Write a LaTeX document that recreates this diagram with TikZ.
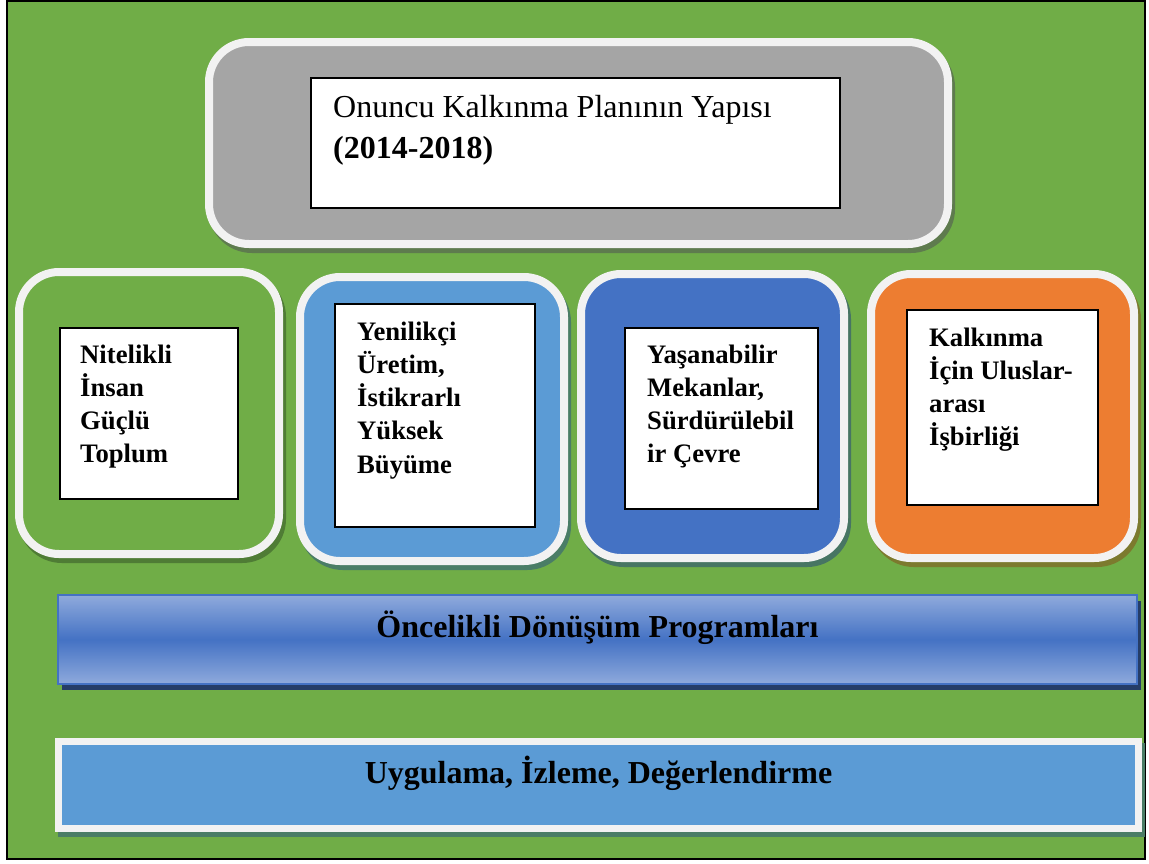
\documentclass[tikz,border=0pt]{standalone}
\usepackage{fontspec}
\setmainfont{Liberation Serif}
\definecolor{bggreen}{HTML}{70AD47}
\definecolor{rimwhite}{HTML}{F2F2F2}
\definecolor{plangray}{HTML}{A5A5A5}
\definecolor{skyblue}{HTML}{5B9BD5}
\definecolor{royalblue}{HTML}{4472C4}
\definecolor{accentorange}{HTML}{ED7D31}
\definecolor{paleblue}{HTML}{8FAADC}
\definecolor{navyshadow}{HTML}{253D68}
\definecolor{shgreen}{HTML}{4F7C35}
\definecolor{shgray}{HTML}{5E7B4E}
\definecolor{shsky}{HTML}{4A7D66}
\definecolor{shblue}{HTML}{477563}
\definecolor{shorange}{HTML}{7C7A2E}
\begin{document}
\begin{tikzpicture}[
  x=1pt, y=-1pt,
  card/.style={draw=rimwhite, line width=8pt, rounded corners=40pt,
    inner sep=0pt, outer sep=0pt},
  cardshadow/.style={preaction={draw=#1, fill=#1, line width=8pt,
    transform canvas={shift={(3pt,-5pt)}}}},
  whitebox/.style={draw=black, line width=1.8pt, fill=white,
    inner sep=0pt, outer sep=0pt},
  itemtext/.style={anchor=base west, inner sep=0pt,
    font=\bfseries\fontsize{26.67}{33.3}\selectfont},
  bartext/.style={anchor=base, inner sep=0pt,
    font=\bfseries\fontsize{32}{38}\selectfont},
]
\useasboundingbox (0,0) rectangle (1149,863);
\fill[white] (0,0) rectangle (1149,863);
% green page frame
\draw[fill=bggreen, line width=2.5pt] (7,1) rectangle (1145,859);

% title card
\node[card, cardshadow=shgray, fill=plangray, minimum width=739pt,
  minimum height=202pt] (title) at (578.5,143) {};
\node[whitebox, minimum width=529pt, minimum height=130pt]
  (titlebox) at (575.5,143) {};
\node[anchor=base west, inner sep=0pt,
  font=\fontsize{32}{41}\selectfont] (titletext) at (333,117)
  {\parbox[t]{500pt}{Onuncu Kalkınma Planının Yapısı\\
   \textbf{(2014-2018)}}};

% four axis cards
\node[card, cardshadow=shgreen, fill=bggreen, minimum width=260pt,
  minimum height=282pt] (c1) at (149,413) {};
\node[card, cardshadow=shsky, fill=skyblue, minimum width=264pt,
  minimum height=284pt] (c2) at (432,419) {};
\node[card, cardshadow=shblue, fill=royalblue, minimum width=263pt,
  minimum height=284pt] (c3) at (712.5,416) {};
\node[card, cardshadow=shorange, fill=accentorange, minimum width=263pt,
  minimum height=284pt] (c4) at (1002.5,416) {};

\node[whitebox, minimum width=178pt, minimum height=171pt] (w1) at (149,413.5) {};
\node[whitebox, minimum width=200pt, minimum height=223pt] (w2) at (435,415.5) {};
\node[whitebox, minimum width=193pt, minimum height=181pt] (w3) at (721.5,418.5) {};
\node[whitebox, minimum width=191pt, minimum height=195pt] (w4) at (1002.5,407.5) {};

\node[itemtext] (t1) at (80,363)
  {\parbox[t]{150pt}{Nitelikli\\İnsan\\Güçlü\\Toplum}};
\node[itemtext] (t2) at (357,340)
  {\parbox[t]{170pt}{Yenilikçi\\Üretim,\\İstikrarlı\\Yüksek\\Büyüme}};
\node[itemtext] (t3) at (647,363)
  {\parbox[t]{170pt}{Yaşanabilir\\Mekanlar,\\Sürdürülebil\\ir Çevre}};
\node[itemtext] (t4) at (929,346)
  {\parbox[t]{170pt}{Kalkınma\\İçin Uluslar-\\arası\\İşbirliği}};

% priority programmes bar
\node[draw=royalblue, line width=1.8pt, inner sep=0pt, outer sep=0pt,
  preaction={fill=navyshadow, transform canvas={shift={(4pt,-6pt)}}},
  top color=paleblue, bottom color=paleblue, middle color=royalblue,
  minimum width=1079pt, minimum height=89pt] (bar1) at (597.5,639.5) {};
\node[bartext] (bar1text) at (597.5,637) {Öncelikli Dönüşüm Programları};

% implementation bar
\node[draw=rimwhite, line width=7pt, fill=skyblue, inner sep=0pt, outer sep=0pt,
  preaction={draw=shsky, fill=shsky, line width=7pt,
    transform canvas={shift={(3pt,-5pt)}}},
  minimum width=1080pt, minimum height=87pt] (bar2) at (598.5,785) {};
\node[bartext] (bar2text) at (598.5,783) {Uygulama, İzleme, Değerlendirme};
\end{tikzpicture}
\end{document}
